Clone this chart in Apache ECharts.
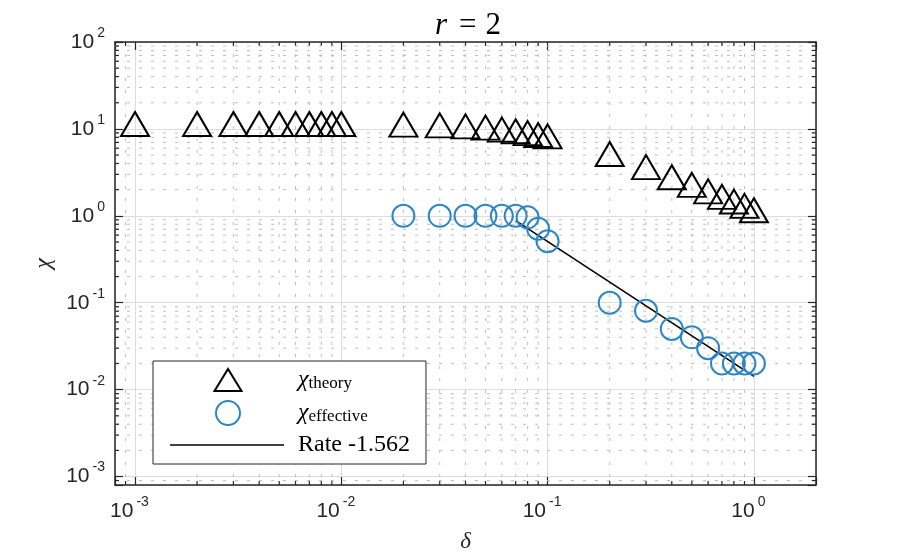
<!DOCTYPE html>
<html lang="en">

<head>
    <meta charset="UTF-8">
    <title>r = 2</title>
    <script src="https://cdn.jsdelivr.net/npm/echarts@6/dist/echarts.min.js"></script>
    <style>
        html, body { margin: 0; padding: 0; background: #fff; }
    </style>
</head>

<body>
    <div id="main" style="width:900px;height:558px"></div>
    <script>
        // axis ranges
        var xMin = 8e-4, xMax = 2;
        var yMin = 8e-4, yMax = 100;

        // chi_theory (triangles)
        var deltaTheory = [0.001, 0.002, 0.003, 0.004, 0.005, 0.006, 0.007, 0.008, 0.009, 0.01,
            0.02, 0.03, 0.04, 0.05, 0.06, 0.07, 0.08, 0.09, 0.1,
            0.2, 0.3, 0.4, 0.5, 0.6, 0.7, 0.8, 0.9, 1.0];
        var chiTheory = [11.4, 11.4, 11.4, 11.4, 11.4, 11.4, 11.4, 11.4, 11.4, 11.4,
            11.2, 11.0, 10.7, 10.35, 9.8, 9.4, 8.95, 8.5, 8.2,
            5.15, 3.63, 2.78, 2.27, 1.91, 1.65, 1.46, 1.30, 1.16];

        // chi_effective (circles)
        var deltaEff = [0.02, 0.03, 0.04, 0.05, 0.06, 0.07, 0.08, 0.09, 0.1,
            0.2, 0.3, 0.4, 0.5, 0.6, 0.7, 0.8, 0.9, 1.0];
        var chiEff = [1.0, 1.0, 1.0, 1.0, 1.0, 1.0, 0.96, 0.71, 0.51,
            0.10, 0.081, 0.05, 0.04, 0.03, 0.02, 0.02, 0.02, 0.02];

        // fitted rate line
        var rateX = [0.07, 1.0];
        var rateY = [0.88, 0.0142];

        // minor grid positions 2..9 x 10^k
        function minorValues(lo, hi) {
            var out = [];
            for (var e = -4; e <= 2; e++) {
                for (var m = 2; m <= 9; m++) {
                    var v = m * Math.pow(10, e);
                    if (v > lo * 1.001 && v < hi * 0.999) out.push(v);
                }
            }
            return out;
        }
        var xMinor = minorValues(xMin, xMax);
        var yMinor = minorValues(yMin, yMax);

        var axisColor = '#262626';
        var minorGrid = { stroke: '#bdbdbd', lineWidth: 1, lineDash: [3, 9] };
        var minorTick = { stroke: axisColor, lineWidth: 1.2 };

        function pow10Label(v) {
            var e = Math.round(Math.log10(v));
            if (Math.abs(Math.log10(v) - e) > 1e-6) return '';
            return '{b|10}{sup|' + e + '}';
        }
        function labelRich(padRight) {
            return {
                b: { fontSize: 21, fontFamily: 'Liberation Sans', color: axisColor },
                sup: { fontSize: 14, fontFamily: 'Liberation Sans', color: axisColor, padding: [0, padRight, 18, 3] }
            };
        }

        function minorXItem(params, api) {
            var cs = params.coordSys;
            var x = api.coord([api.value(0), 1])[0];
            var b = cs.y + cs.height;
            return {
                type: 'group', children: [
                    { type: 'line', shape: { x1: x, y1: cs.y, x2: x, y2: b }, style: minorGrid },
                    { type: 'line', shape: { x1: x, y1: b, x2: x, y2: b - 4 }, style: minorTick },
                    { type: 'line', shape: { x1: x, y1: cs.y, x2: x, y2: cs.y + 4 }, style: minorTick }
                ]
            };
        }
        function minorYItem(params, api) {
            var cs = params.coordSys;
            var y = api.coord([1, api.value(1)])[1];
            var r = cs.x + cs.width;
            return {
                type: 'group', children: [
                    { type: 'line', shape: { x1: cs.x, y1: y, x2: r, y2: y }, style: minorGrid },
                    { type: 'line', shape: { x1: cs.x, y1: y, x2: cs.x + 4, y2: y }, style: minorTick },
                    { type: 'line', shape: { x1: r, y1: y, x2: r - 4, y2: y }, style: minorTick }
                ]
            };
        }

        function frameAxis(pos) {
            return {
                type: 'log', position: pos, min: pos === 'top' ? xMin : yMin, max: pos === 'top' ? xMax : yMax,
                axisLine: { show: true, lineStyle: { color: axisColor, width: 1.5 } },
                axisTick: { inside: true, length: 8, lineStyle: { color: axisColor, width: 1.2 } },
                axisLabel: { show: false },
                splitLine: { show: false }
            };
        }

        // legend icons drawn in a 114x24 box (the M points fix the box)
        var iconTriangle = 'path://M0,0M114,24M58,1L71.5,23L44.5,23Z';
        var iconCircle = 'path://M0,0M114,24M46,12A12,12,0,1,1,70,12A12,12,0,1,1,46,12Z';
        var iconLine = 'path://M0,0M114,24M0,11.2L114,11.2L114,12.8L0,12.8Z';

        var myChart = echarts.init(document.getElementById('main'));
        var option = {
            animation: false,
            title: {
                text: '{i|r}{e|=}{n|2}',
                left: 463,
                textAlign: 'center',
                top: 5,
                textStyle: {
                    rich: {
                        i: { fontFamily: 'Liberation Serif', fontStyle: 'italic', fontWeight: 'normal', fontSize: 31, color: '#000' },
                        e: { fontFamily: 'Liberation Serif', fontWeight: 'normal', fontSize: 31, color: '#000', padding: [0, 9, 0, 12] },
                        n: { fontFamily: 'Liberation Serif', fontWeight: 'normal', fontSize: 31, color: '#000' }
                    }
                }
            },
            grid: { left: 115, right: 84, top: 42, bottom: 71, containLabel: false },
            legend: {
                orient: 'vertical',
                left: 153,
                top: 361,
                itemWidth: 114,
                itemHeight: 24,
                itemGap: 7,
                padding: [6, 16, 7, 16],
                borderColor: axisColor,
                borderWidth: 1,
                backgroundColor: '#fff',
                selectedMode: false,
                data: [
                    { name: 'theory', icon: iconTriangle },
                    { name: 'effective', icon: iconCircle },
                    { name: 'rate', icon: iconLine }
                ],
                formatter: function (name) {
                    if (name === 'rate') return '{r|Rate -1.562}';
                    return '{chi|χ}{sub|' + name + '}';
                },
                textStyle: {
                    padding: [0, 0, 0, 9],
                    rich: {
                        chi: { fontFamily: 'Liberation Serif', fontStyle: 'italic', fontSize: 24, color: '#000' },
                        sub: { fontFamily: 'Liberation Serif', fontSize: 17, color: '#000', padding: [8, 0, 0, 0] },
                        r: { fontFamily: 'Liberation Serif', fontSize: 24, color: '#000' }
                    }
                }
            },
            xAxis: [{
                type: 'log', min: xMin, max: xMax,
                name: 'δ', nameLocation: 'middle', nameGap: 45,
                nameTextStyle: { fontFamily: 'Liberation Serif', fontStyle: 'italic', fontSize: 23, color: axisColor },
                axisLine: { lineStyle: { color: axisColor, width: 1.5 } },
                axisTick: { inside: true, length: 8, lineStyle: { color: axisColor, width: 1.2 } },
                axisLabel: { margin: 10, formatter: pow10Label, rich: labelRich(11) },
                splitLine: { show: true, lineStyle: { color: '#dcdcdc', width: 1 } }
            }, frameAxis('top')],
            yAxis: [{
                type: 'log', min: yMin, max: yMax,
                name: 'χ', nameLocation: 'middle', nameGap: 58, nameRotate: 90,
                nameTextStyle: { fontFamily: 'Liberation Serif', fontStyle: 'italic', fontSize: 24, color: axisColor },
                axisLine: { lineStyle: { color: axisColor, width: 1.5 } },
                axisTick: { inside: true, length: 8, lineStyle: { color: axisColor, width: 1.2 } },
                axisLabel: { margin: 10, formatter: pow10Label, rich: labelRich(0) },
                splitLine: { show: true, lineStyle: { color: '#dcdcdc', width: 1 } }
            }, frameAxis('right')],
            series: [
                {
                    type: 'custom', silent: true, z: 1,
                    renderItem: minorXItem,
                    data: xMinor.map(function (v) { return [v, 1]; })
                },
                {
                    type: 'custom', silent: true, z: 1,
                    renderItem: minorYItem,
                    data: yMinor.map(function (v) { return [1, v]; })
                },
                {
                    name: 'rate', type: 'line', symbol: 'none', z: 4,
                    data: rateX.map(function (x, i) { return [x, rateY[i]]; }),
                    lineStyle: { color: '#000', width: 1.6 },
                    itemStyle: { color: '#000' }
                },
                {
                    name: 'theory', type: 'scatter', z: 5,
                    symbol: 'triangle', symbolSize: [28, 24],
                    data: deltaTheory.map(function (x, i) { return [x, chiTheory[i]]; }),
                    itemStyle: { color: 'rgba(0,0,0,0)', borderColor: '#000', borderWidth: 2, opacity: 1 }
                },
                {
                    name: 'effective', type: 'scatter', z: 5,
                    symbol: 'circle', symbolSize: 22,
                    data: deltaEff.map(function (x, i) { return [x, chiEff[i]]; }),
                    itemStyle: { color: 'rgba(0,0,0,0)', borderColor: '#2f86c4', borderWidth: 2, opacity: 1 }
                }
            ]
        };
        myChart.setOption(option);
    </script>
</body>

</html>
